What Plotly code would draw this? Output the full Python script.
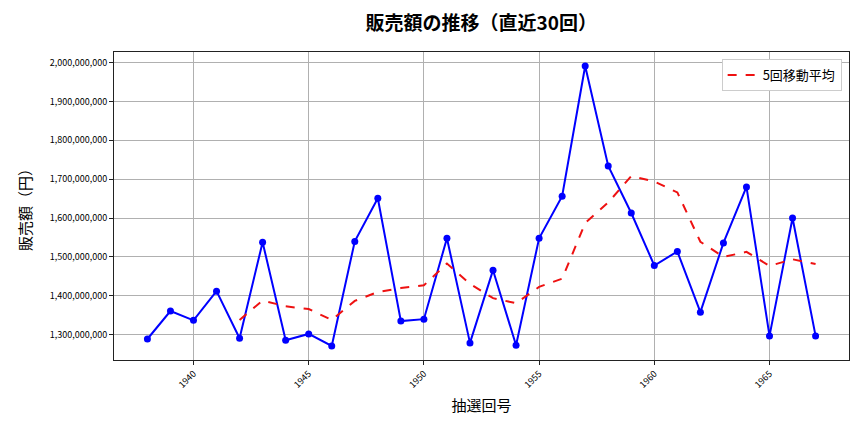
import plotly.graph_objects as go

draws = list(range(1938, 1968))
sales = [1289e6, 1361e6, 1337e6, 1412e6, 1291e6, 1538e6, 1286e6, 1302e6, 1271e6, 1540e6,
         1651e6, 1335e6, 1340e6, 1548e6, 1279e6, 1466e6, 1273e6, 1548e6, 1656e6, 1991e6,
         1734e6, 1613e6, 1478e6, 1514e6, 1358e6, 1536e6, 1680e6, 1297e6, 1600e6, 1297e6]
ma_draws = list(range(1942, 1968))
ma5 = [1338e6, 1388e6, 1373e6, 1366e6, 1338e6, 1387e6, 1410e6, 1420e6, 1427e6, 1483e6,
       1431e6, 1394e6, 1381e6, 1423e6, 1444e6, 1587e6, 1640e6, 1708e6, 1694e6, 1666e6,
       1539e6, 1500e6, 1513e6, 1477e6, 1494e6, 1482e6]
x_ticks = [1940, 1945, 1950, 1955, 1960, 1965]
y_ticks = [1300e6, 1400e6, 1500e6, 1600e6, 1700e6, 1800e6, 1900e6, 2000e6]

FONT = "Noto Sans CJK JP"

fig = go.Figure()
fig.add_trace(go.Scatter(
    x=draws, y=sales, mode="lines+markers", showlegend=False,
    line=dict(color="#0000ff", width=2),
    marker=dict(color="#0000ff", size=7),
))
fig.add_trace(go.Scatter(
    x=ma_draws, y=ma5, mode="lines", name="5回移動平均",
    line=dict(color="#ee1111", width=2, dash="dash"),
))

axis_common = dict(
    showline=True, linecolor="#222222", linewidth=1, mirror=True,
    showgrid=True, gridcolor="#b0b0b0", gridwidth=1,
    ticks="outside", ticklen=4, tickcolor="#222222",
    zeroline=False,
)

fig.update_layout(
    width=864, height=432,
    margin=dict(l=114, r=15, t=52, b=72),
    paper_bgcolor="white", plot_bgcolor="white",
    font=dict(family=FONT, color="black"),
    title=dict(text="<b>販売額の推移（直近30回）</b>", x=0.557, xanchor="center",
               y=0.945, yanchor="middle", font=dict(size=19, family=FONT)),
    legend=dict(x=0.99, y=0.977, xanchor="right", yanchor="top",
                bgcolor="white", bordercolor="#cccccc", borderwidth=1,
                font=dict(size=13, family=FONT)),
    xaxis=dict(range=[1936.55, 1968.45], tickvals=x_ticks, tickangle=-45,
               tickfont=dict(size=9),
               title=dict(text="抽選回号", font=dict(size=15), standoff=10),
               **axis_common),
    yaxis=dict(range=[1235e6, 2027e6], tickvals=y_ticks, tickformat=",d",
               tickfont=dict(size=9),
               title=dict(text="販売額（円）", font=dict(size=15), standoff=14),
               **axis_common),
)

fig.write_html("out.html")
